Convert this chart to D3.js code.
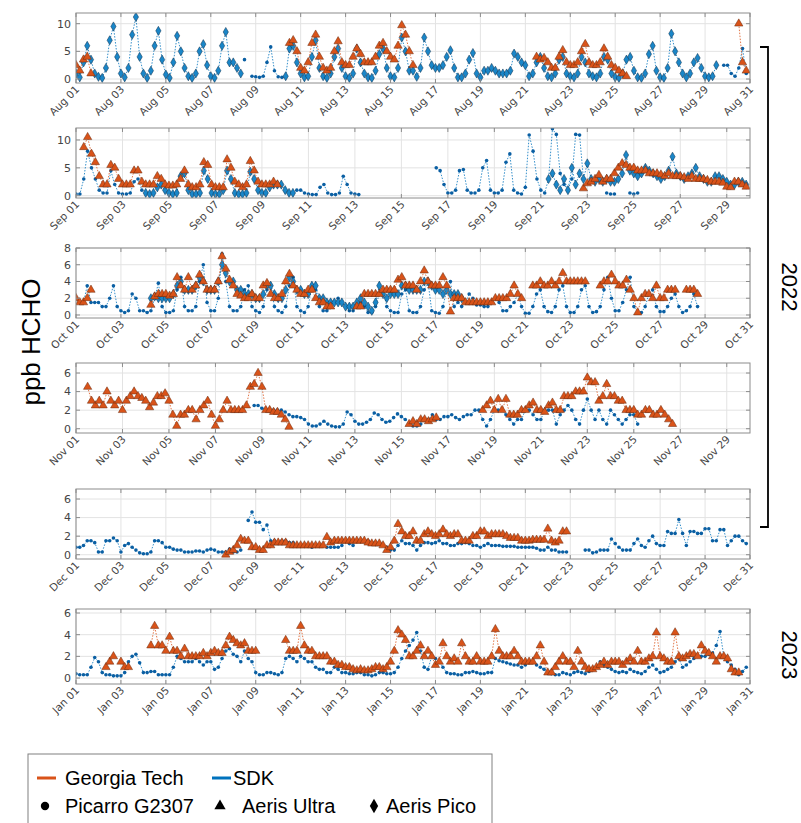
<!DOCTYPE html>
<html>
<head>
<meta charset="utf-8">
<script src="https://cdn.jsdelivr.net/npm/d3@7"></script>
<style>
  body { margin: 0; background: #fff; }
  svg { display: block; }
</style>
</head>
<body>
<svg id="chart" width="801" height="823"></svg>
<script>
// samples every 4 hours (one row = one day)
var sampleHours = [0, 4, 8, 12, 16, 20];

var panelStarts = [new Date(2022, 7, 1), new Date(2022, 8, 1), new Date(2022, 9, 1),
                   new Date(2022, 10, 1), new Date(2022, 11, 1), new Date(2023, 0, 1)];
var panelEnds = [new Date(2022, 7, 31), new Date(2022, 8, 30), new Date(2022, 9, 31),
                 new Date(2022, 10, 30), new Date(2022, 11, 31), new Date(2023, 0, 31)];
var panelYTicks = [[0, 5, 10], [0, 5, 10], [0, 2, 4, 6, 8], [0, 2, 4, 6], [0, 2, 4, 6], [0, 2, 4, 6]];
var panelYDomains = [[-0.72, 11.93], [-0.41, 12.15], [-0.36, 8], [-0.46, 7.08], [-0.46, 7.08], [-0.55, 6.37]];

var legendGroups = ["Georgia Tech", "SDK"];
var legendInstruments = ["Picarro G2307", "Aeris Ultra", "Aeris Pico"];

// ---------- August 2022 ----------
var augGT = [
 2.5,1.5,3.5,4,1,null,
 null,null,null,null,null,null,
 null,null,null,null,null,null,
 null,null,null,null,null,null,
 null,null,null,null,null,null,
 null,null,null,null,null,null,
 null,null,null,null,null,null,
 null,null,null,null,null,null,
 null,null,null,null,null,null,
 null,null,null,6.5,7,5,
 2,1.5,3,6.5,8,4,
 2,1.5,2,5,6.8,3,
 2.5,2.5,4,5.5,4.5,3,
 3,3,4,6,6.5,5,
 4,3.5,6,9.7,8,5,
 2.5,null,null,null,null,null,
 null,null,null,null,null,null,
 null,null,null,null,null,null,
 null,null,null,null,null,null,
 null,null,null,null,null,null,
 null,null,null,4,3.5,3.8,
 3,2,2,4,5.2,3,
 2.5,2.5,3,5,6.3,3,
 2.5,2.5,3,5.5,4,2.5,
 2,1.5,1,0.5,null,null,
 null,null,null,null,null,null,
 null,null,null,null,null,null,
 null,null,null,null,null,null,
 null,null,null,null,null,null,
 null,null,null,10,3,1.5
];
var augPico = [
 1,0.3,3,6,3.5,1,
 0.4,0.2,2,7,9.5,4,
 1,0.3,2,8,11.2,4,
 1,0.2,1.5,6,8.7,3.5,
 0.8,0.2,3,7.8,5,2,
 0.5,0.2,1,5,6.3,2.5,
 0.5,0.2,1.5,6,8.5,3,
 3,2,1,null,null,null,
 null,null,null,null,null,null,
 null,null,0.5,5.5,6,3,
 1,0.3,0.5,4,7,2,
 0.5,0.2,1,4,5.5,2,
 0.5,0.2,1,5.5,3,1,
 0.3,0.2,1.5,4.5,5.5,2,
 0.5,0.3,2,7.5,5,1.5,
 1.5,0.4,2,7.5,5,2.5,
 2,2,2.5,4,5.2,2,
 0.3,0.3,1,3.5,4.7,1,
 0.3,1.5,1.5,2,1.5,1,
 1,1,1.5,4.6,4,3,
 2.5,0.5,1,3,4,2,
 0.5,0.3,1,3.5,4,1,
 0.5,0.3,1,4,3,1,
 0.5,0.3,1,4,3.5,1,
 0.3,0.2,1,3.5,4,1.5,
 0.3,0.2,1,4.5,6,1.5,
 0.3,0.2,2,8.2,5,3,
 1,0.3,1,3,3.8,2,
 0.5,0.3,0.5,2.5,null,null,
 null,null,null,null,null,null
];
var augPicarro = [
 null,null,null,null,null,null,
 null,null,null,null,null,null,
 null,null,null,null,null,null,
 null,null,null,null,null,null,
 null,null,null,null,null,null,
 null,null,null,null,null,null,
 null,null,null,null,null,null,
 null,null,null,3.5,null,0.5,
 0.4,0.3,0.5,3,5.8,1.5,
 0.4,0.3,0.5,null,null,null,
 null,null,null,null,null,null,
 null,null,null,null,null,null,
 null,null,null,null,null,null,
 null,null,null,null,null,null,
 null,null,null,null,null,null,
 null,null,null,null,null,null,
 null,null,null,null,null,null,
 null,null,null,null,null,null,
 null,null,null,null,null,null,
 null,null,null,null,null,null,
 null,null,null,null,null,null,
 null,null,null,null,null,null,
 null,null,null,null,null,null,
 null,null,null,null,null,null,
 null,null,null,null,null,null,
 null,null,null,null,null,null,
 null,null,null,null,null,null,
 null,null,null,null,null,null,
 null,null,null,null,null,2.5,
 2.5,1,0.5,2,5.5,1
];

// ---------- September 2022 ----------
var sepGT = [
 null,null,8.7,10.5,7.5,6,
 3.5,2,2,5.5,5,3,
 2,2,2,4.5,4.5,2.5,
 2,2,2,3.5,3,2,
 1.8,1.8,2,3,4.5,2,
 1.5,1.5,2,6,5.5,2,
 1.5,1.5,1.5,6.5,5,2.5,
 2,1.5,2,6.2,4.5,2.5,
 2,2,2,2.5,2,null,
 null,null,null,null,null,null,
 null,null,null,null,null,null,
 null,null,null,null,null,null,
 null,null,null,null,null,null,
 null,null,null,null,null,null,
 null,null,null,null,null,null,
 null,null,null,null,null,null,
 null,null,null,null,null,null,
 null,null,null,null,null,null,
 null,null,null,null,null,null,
 null,null,null,null,null,null,
 null,null,null,null,null,null,
 null,null,null,null,null,1.3,
 2.2,2.5,3,3.7,2.5,3,
 3,4,5,5.8,5.5,5,
 5,4.5,4.5,4.5,4,4,
 4,3.8,3.5,4,3.5,3.5,
 3.5,3.3,3,3.5,3,3,
 3,2.8,2.5,2.5,2.5,2.3,
 1.6,1.5,2.5,2.5,2,1.6
];
var sepPico = [
 null,null,null,null,null,null,
 null,null,null,null,null,null,
 null,null,null,null,null,null,
 0.5,0.3,0.5,1.5,2,1,
 0.5,0.3,0.5,3.5,4,1,
 0.3,0.3,0.5,4.5,3,0.5,
 0.3,0.3,1,4.5,3,0.5,
 0.3,0.3,0.5,4.3,3,1,
 0.5,0.5,1.5,2,2,2,
 1,0.5,0.5,null,null,null,
 null,null,null,null,null,null,
 null,null,null,null,null,null,
 null,null,null,null,null,null,
 null,null,null,null,null,null,
 null,null,null,null,null,null,
 null,null,null,null,null,null,
 null,null,null,null,null,null,
 null,null,null,null,null,null,
 null,null,null,null,null,null,
 null,null,null,null,null,null,
 null,null,3,4,2,1,
 3,1,5,2,4,3,
 5.8,3,2.5,3,2.5,3,
 2.5,2.5,3,4,7.3,4.5,
 4,3.5,4,5,4.5,4,
 3.5,3,3.5,4.5,7,4,
 3.5,3,3.5,4,5,3.5,
 3,2.5,2.5,3.5,3.5,3,
 2.5,2,2,2.5,2.5,2
];
var sepPicarro = [
 0.3,0.3,3,8,5,3,
 1,0.5,0.5,4.5,2,0.5,
 0.3,0.3,0.5,2.5,3,1,
 null,null,null,null,null,null,
 null,null,null,null,null,null,
 null,null,null,null,null,null,
 null,null,null,null,null,null,
 null,null,null,null,null,null,
 null,null,null,null,null,null,
 null,null,null,1,1,0.5,
 0.3,0.2,0.2,1.5,2,0.5,
 0.2,0.2,0.5,3.5,2,0.5,
 0.3,0.2,null,null,null,null,
 null,null,null,null,null,null,
 null,null,null,null,null,null,
 null,null,null,5,4.5,2,
 0.5,0.5,1,4.5,4.7,1,
 0.5,0.5,1,5,6.3,1,
 0.5,0.5,1,6,7.5,1,
 0.5,0.3,1.5,10.9,8,3,
 1,0.5,3,12,11,4,
 2,1,3,11,10.9,3,
 null,null,null,null,null,0.5,
 0.3,0.3,null,null,null,0.5,
 0.3,0.5,null,null,null,null,
 null,null,null,null,null,null,
 null,null,null,null,null,null,
 null,null,null,null,null,null,
 null,null,null,null,null,null
];

// ---------- October 2022 ----------
var octGT = [
 2,1.5,1.5,2,3,null,
 null,null,null,null,null,null,
 null,null,null,null,null,null,
 null,null,1.2,2.2,2.5,2.5,
 2.5,2.3,2.5,4.5,3.5,3,
 4.5,3,3.5,4.8,4,3,
 3,3,4,7,5.5,4.2,
 3.5,2.5,2.3,2,2,2.5,
 2,2,3.5,3.8,2.5,2,
 2,2.5,4,4.9,3.5,3,
 2.5,2.5,3,3,2,1.5,
 1.5,1,1,null,null,null,
 null,null,null,1,1,2.5,
 2.5,2.5,2.5,2.5,3,3,
 3,3,4.2,4.5,3.5,3.5,
 3.5,3,4,5.3,4,3.5,
 3.5,3.5,4.5,3.5,0.4,2,
 2,2,1.5,1.5,1.5,1.5,
 1.5,1.5,1.5,1.5,2,2,
 2,2,2.5,3.5,2.5,2,
 null,null,3.5,3.5,4,3.5,
 3.5,4,3.5,4,5,4,
 4,4,4,4,4,null,
 null,null,3.5,4,4,4.8,
 4,3.5,3.5,4.2,3,2,
 0.3,2,2.5,2.5,2,3.5,
 2,2,3,3,3,null,
 null,3,3,3,2.5,null,
 null,null,null,null,null,null,
 null,null,null,null,null,null
];
var octPico = [
 null,null,null,null,null,null,
 null,null,null,null,null,null,
 null,null,null,null,null,null,
 null,null,2,2.2,2,2,
 2,2,2.5,3.5,4,3,
 3,3,3.5,4.5,4,3,
 3,3,4,6,5,4,
 4,3,3,2.5,2.5,2.5,
 2,2,2.5,3.5,3.5,2.5,
 2,2,3,4.5,4,3,
 3,2.5,2.5,3.5,3.5,2,
 2,1.5,1.5,1.5,1.5,1.5,
 1,1,1,1.5,2,1.5,
 1,0.5,1.5,3.5,2.5,2,
 2.5,2.5,2.5,3.5,3.5,3,
 3,3,3,4,4,3.5,
 3,3,2.5,3,2.5,2.5,
 2.5,2,null,null,null,null,
 null,null,null,null,null,null,
 null,null,null,null,null,null,
 null,null,null,null,null,null,
 null,null,null,null,null,null,
 null,null,null,null,null,null,
 null,null,null,null,null,null,
 null,null,null,null,null,null,
 null,null,null,null,null,null,
 null,null,null,null,null,null,
 null,null,null,null,null,null,
 null,null,null,null,null,null,
 null,null,null,null,null,null
];
var octPicarro = [
 2,1.5,1.5,3.5,1.5,1.5,
 1.5,1,1,2,3.5,1,
 0.5,0.3,0.5,2.5,2,0.5,
 0.5,0.3,0.5,2,3.8,1,
 0.3,0.3,0.5,3,4.5,1,
 0.5,0.5,1,4,6,1.5,
 0.5,0.5,2,7.3,4,1,
 0.5,0.5,1,3,3.5,1,
 0.5,0.3,1,3,3.5,1,
 0.5,0.3,1,3.5,4.5,1,
 0.5,0.3,1,3.5,3,1,
 0.5,0.5,1,1.5,2,1.5,
 1,0.5,0.5,1.5,1.5,1,
 0.3,0.3,1,2.5,3,1,
 0.5,0.3,0.3,2.5,3,0.5,
 0.3,0.3,1,3,4,0.5,
 0.3,0.2,1,3,4,1,
 1.5,1,1.5,2.5,2,1.2,
 1.2,1,1,1.5,2,1.5,
 0.5,0.5,1,1.5,2.5,1,
 0.2,0.2,1,2.5,3,1,
 0.4,0.3,1,3,3.5,1,
 0.3,0.3,1,3,3.5,1,
 0.3,0.4,1,3,4.5,2,
 0.5,0.5,1.5,3,4.5,1,
 0.3,0.3,1,2.5,3,1,
 0.4,0.4,1,2,2.5,1,
 0.3,0.5,1,2.5,1,null,
 null,null,null,null,null,null,
 null,null,null,null,null,null
];

// ---------- November 2022 ----------
var novGT = [
 null,null,null,4.5,3,2.5,
 3,2.5,4,3,2.5,3,
 2,3,3.5,4,3.5,3.3,
 3,2.3,2.8,3.5,3.5,3.8,
 3,1.5,0.3,1.5,1.5,2,
 2,1,2,2.5,3,1.5,
 0.3,1,2,3,2,2,
 2,2,2.5,4.5,4.8,6,
 4.5,2,2,1.8,1.8,1.5,
 1,0.2,null,null,null,null,
 null,null,null,null,null,null,
 null,null,null,null,null,null,
 null,null,null,null,null,null,
 null,null,null,null,null,null,
 null,null,0.5,0.8,0.5,1,
 1,0.8,1,1.2,null,null,
 null,null,null,null,null,null,
 null,null,null,2,2.5,3,
 2,3.2,2,3.2,1.5,1.5,
 1.5,2,2,2.5,2.8,2,
 2,1.8,2.5,2.8,2,2,
 3.5,3.5,3.5,4,4,4,
 5.5,5,5,3,3.5,4.8,
 3.5,3.5,3,3,2,2,
 2,1.5,1.5,2,2,1.5,
 1.5,2,1.5,1,0.5,null,
 null,null,null,null,null,null,
 null,null,null,null,null,null,
 null,null,null,null,null,null
];
var novPicarro = [
 null,null,null,null,null,null,
 null,null,null,null,null,null,
 null,null,null,null,null,null,
 null,null,null,null,null,null,
 null,null,null,null,null,null,
 null,null,null,null,null,null,
 null,null,null,null,null,null,
 null,null,null,null,2.5,2.5,
 2.2,2,2,2,2,2,
 1.8,1.5,1.3,1.3,1.2,1,
 0.5,0.3,0.3,0.5,0.8,0.5,
 0.3,0.2,0.2,0.5,1.8,1.5,
 0.8,0.5,0.5,0.7,1,1.7,
 1.5,1,0.7,0.8,1.2,1.6,
 1.3,1,0.5,0.3,0.3,0.5,
 1,1,1.5,1,1,1.3,
 1.3,1.5,1.2,1,1.3,1.5,
 1.5,2,2,1,0.3,1,
 2,2,2,1.5,1,0.5,
 1,1,2,2,1.5,1,
 1,2,2,2,0.5,1.5,
 2,2.5,2,1,0.5,2,
 3.2,2,1,2,1,0.5,
 2,1.5,1,0.5,1,1.5,
 1.5,0.5,null,null,null,null,
 null,null,null,null,null,null,
 null,null,null,null,null,null,
 null,null,null,null,null,null,
 null,null,null,null,null,null
];

// ---------- December 2022 ----------
var decGT = [
 null,null,null,null,null,null,
 null,null,null,null,null,null,
 null,null,null,null,null,null,
 null,null,null,null,null,null,
 null,null,null,null,null,null,
 null,null,null,null,null,null,
 null,null,null,null,0,0.3,
 0.5,1,1.7,1.5,1.5,0.8,
 0.8,0.5,0.5,1,1,1.3,
 1.3,1.3,1.3,1,1,1,
 1,1,1,1,1,1,
 1,1.9,1.3,1.5,1.5,1.5,
 1.5,1.5,1.5,1.5,1.5,1.5,
 1.3,1.2,1.2,1.2,1,0.5,
 0.8,1.5,3.3,2.5,2,2,
 2.5,1.5,1.5,2.2,2.5,2.2,
 2,2.2,2.7,2.2,2,2.2,
 2.2,1.5,1.5,1.5,2,2,
 2.5,2.5,2,2.2,2.2,2.2,
 2.2,2,1.8,1.8,1.8,1.5,
 1.5,1.5,1.6,1.6,1.6,1.6,
 2.8,1.5,1.3,1.5,2.5,2.5,
 null,null,null,null,null,null,
 null,null,null,null,null,null,
 null,null,null,null,null,null,
 null,null,null,null,null,null,
 null,null,null,null,null,null,
 null,null,null,null,null,null,
 null,null,null,null,null,null,
 null,null,null,null,null,null
];
var decPicarro = [
 0.8,0.8,1,1.5,1.5,1.3,
 0.3,0.3,1.5,1.5,1.8,1.5,
 0.3,1,1.2,0.8,0.5,0.2,
 0.1,0.1,0.3,1.5,1.5,1.3,
 0.8,0.8,0.6,0.5,0.5,0.3,
 0.3,0.3,0.4,0.4,0.3,0.5,
 0.6,0.5,0.3,0.3,0.3,0.6,
 0.3,0.3,0.5,null,3.7,4.6,
 3.5,3.5,2.7,3.2,1.5,1.5,
 1.3,1.5,1.5,1.3,1.3,1,
 1,1,1,0.8,1,1,
 1,0.8,0.8,0.8,0.8,1,
 1.5,1.2,1,1.5,1.5,1.5,
 1.5,1.3,1.3,1.2,1,0.8,
 0.5,0.5,1,1.5,1.2,1.2,
 1,0.5,1,1.3,1.3,1.2,
 1.3,1.5,1.2,1.2,1,1,
 1.2,1.2,1.3,1.2,1,1,
 0.8,1,1.2,1,1,1,
 0.9,0.9,0.9,0.9,0.8,0.8,
 0.8,0.8,0.8,0.7,0.5,0.5,
 0.8,0.5,0.5,0.3,0.3,0.3,
 null,null,null,null,0.5,0.5,
 0.2,0.3,0.5,0.5,0.5,1.7,
 1.2,0.8,0.5,0.5,0.5,1.2,
 1.7,1,0.8,1.5,2,1.2,
 1,1,2.5,2.3,2.3,3.8,
 2.3,1,2.5,2.5,2.3,2.3,
 2.8,2.8,1.5,1.5,2.7,2.7,
 1,1.5,2,2,1.5,1.2
];

// ---------- January 2023 ----------
var janGT = [
 null,null,null,null,null,null,
 null,null,1,1.5,2,null,
 1.5,1,1,null,null,null,
 null,null,3,4.8,3,3,
 2.5,3.8,2.5,2.5,2,2.7,
 2,2,2,2,2.3,2,
 2.3,2.5,2.3,2.3,3,3.8,
 3.5,3.2,3,3.2,2.5,2.5,
 2.5,null,null,null,null,null,
 null,null,3.5,2.5,2.5,2.5,
 4.8,3,2.5,2.5,2,2,
 2,2,1.5,1.5,1.2,1.2,
 1,1,0.8,0.7,0.8,0.7,
 0.7,0.8,1,1,0.8,1,
 1.5,2.5,4.4,4,3.5,2,
 2,2.5,3,2,2.5,2,
 1.2,1.5,3.2,2,1.5,1.8,
 1.5,3.2,2,1.5,1.5,2,
 1.5,1.5,1.5,2,4.5,2.5,
 2,2,2,2.5,2,1.5,
 1.5,1.5,1.5,2,3,1.5,
 0.5,0.5,1,1.5,2,1.5,
 1.5,1,2.5,1.5,1,0.8,
 0.8,1,1.2,1.5,1.2,1.5,
 1.5,1.5,1.2,1.5,1.8,1.5,
 2.5,1.5,1.5,1.8,2,4.2,
 2,1.8,1.5,1.5,4.2,2,
 1.8,2,2.2,2.2,2,3,
 2.5,2.3,2,1.5,2,2,
 1.8,0.8,0.5,0.5,null,null
];
var janPicarro = [
 0.4,0.3,0.3,0.3,1,1.9,
 1.5,0.5,0.3,0.3,0.2,0.2,
 0.2,0.5,1.5,2,2.2,1.4,
 0.5,0.5,0.6,0.6,0.3,0.3,
 0.3,0.3,1,2,1.8,1.5,
 1.5,1.5,1.8,1.5,1.2,1.5,
 1.5,0.8,1,1.8,2.5,2.7,
 2.2,2,1.5,2.5,1.8,1.5,
 0.5,0.3,0.3,0.5,0.5,0.4,
 0.3,0.5,1.8,2,1.8,1.5,
 2,1.8,1.5,1.5,1,0.8,
 0.8,0.5,0.5,1,0.8,0.5,
 0.5,0.4,0.4,0.5,0.5,0.3,
 0.3,0.2,0.3,0.5,0.5,0.4,
 0.4,0.5,1,1.8,2.5,3,
 3.5,4.2,2.5,1,0.8,2,
 1.8,1.5,1,0.5,0.4,0.4,
 0.3,0.3,0.5,0.5,0.6,0.5,
 0.4,0.4,0.5,0.5,1.8,1.6,
 1.5,1.4,1.3,1.2,1.2,1,
 1.2,1.5,1.5,1.2,1,0.8,
 0.5,0.4,0.3,0.3,0.5,0.4,
 0.3,0.5,0.6,0.5,0.4,0.6,
 0.8,1,1.5,1.2,1,0.8,
 0.6,0.5,0.6,0.5,0.8,0.6,
 0.5,0.4,0.6,1,1.2,0.8,
 0.5,0.6,0.8,1,1.5,1.8,
 1,1.2,1.5,1.8,2,2,
 2,2.2,2.3,3,4.3,2,
 1.5,1.2,0.8,0.3,0.6,1
];

// series per panel: kind decides colour and marker
var panelSeries = [
  [{ kind: "pic", values: augPicarro }, { kind: "pico", values: augPico }, { kind: "gt", values: augGT }],
  [{ kind: "pic", values: sepPicarro }, { kind: "pico", values: sepPico }, { kind: "gt", values: sepGT }],
  [{ kind: "pic", values: octPicarro }, { kind: "pico", values: octPico }, { kind: "gt", values: octGT }],
  [{ kind: "pic", values: novPicarro }, { kind: "gt", values: novGT }],
  [{ kind: "pic", values: decPicarro }, { kind: "gt", values: decGT }],
  [{ kind: "pic", values: janPicarro }, { kind: "gt", values: janGT }]
];

var orange = "#D95319", blue = "#0072BD";

// layout
var plotLeft = 76, plotRight = 750;
var panelTops = [13, 128, 248, 363, 489, 609];
var panelBottoms = [83, 198, 318, 433, 559, 684];

var svg = d3.select("#chart");

function toPoints(values, start) {
    return values.map(function (v, i) {
        var t = d3.timeHour.offset(d3.timeDay.offset(start, Math.floor(i / 6)), sampleHours[i % 6]);
        return { t: t, v: v };
    });
}

panelStarts.forEach(function (start, p) {
    var top = panelTops[p], bottom = panelBottoms[p];
    var x = d3.scaleTime().domain([start, panelEnds[p]]).range([plotLeft, plotRight]);
    var y = d3.scaleLinear().domain(panelYDomains[p]).range([bottom, top]);
    var xTicks = d3.timeDay.every(2).range(start, d3.timeDay.offset(panelEnds[p], 1));

    var g = svg.append("g");

    // grid
    g.selectAll(".gx").data(xTicks).join("line")
        .attr("x1", function (d) { return x(d) }).attr("x2", function (d) { return x(d) })
        .attr("y1", top).attr("y2", bottom)
        .attr("stroke", "#e3e3e3").attr("stroke-width", 1);
    g.selectAll(".gy").data(panelYTicks[p]).join("line")
        .attr("x1", plotLeft).attr("x2", plotRight)
        .attr("y1", function (d) { return y(d) }).attr("y2", function (d) { return y(d) })
        .attr("stroke", "#e3e3e3").attr("stroke-width", 1);

    var clipId = "clip" + p;
    svg.append("clipPath").attr("id", clipId).append("rect")
        .attr("x", plotLeft).attr("y", top).attr("width", plotRight - plotLeft).attr("height", bottom - top);
    var plot = g.append("g").attr("clip-path", "url(#" + clipId + ")");

    panelSeries[p].forEach(function (s) {
        var pts = toPoints(s.values, start);
        var col = s.kind == "gt" ? orange : blue;
        var line = d3.line()
            .defined(function (d) { return d.v != null })
            .x(function (d) { return x(d.t) })
            .y(function (d) { return y(d.v) });
        plot.append("path")
            .datum(pts)
            .attr("fill", "none")
            .attr("stroke", col)
            .attr("stroke-width", 0.8)
            .attr("stroke-dasharray", "1.5,1.5")
            .attr("d", line);

        var shown = pts.filter(function (d) { return d.v != null });
        if (s.kind == "pic") {
            plot.selectAll(null).data(shown).join("circle")
                .attr("cx", function (d) { return x(d.t) })
                .attr("cy", function (d) { return y(d.v) })
                .attr("r", 1.8)
                .attr("fill", "#0a5fa3");
        } else {
            var sym = d3.symbol().type(s.kind == "gt" ? d3.symbolTriangle : d3.symbolDiamond)
                .size(s.kind == "gt" ? 30 : 24);
            plot.selectAll(null).data(shown).join("path")
                .attr("transform", function (d) { return "translate(" + x(d.t) + "," + y(d.v) + ")" })
                .attr("d", sym)
                .attr("fill", s.kind == "gt" ? orange : "#1a86c8")
                .attr("stroke", s.kind == "gt" ? "#6a2a0e" : "#0b2f4d")
                .attr("stroke-width", 0.5);
        }
    });

    // box and inner ticks
    g.append("rect")
        .attr("x", plotLeft).attr("y", top)
        .attr("width", plotRight - plotLeft).attr("height", bottom - top)
        .attr("fill", "none").attr("stroke", "#8c8c8c").attr("stroke-width", 1);
    xTicks.forEach(function (d) {
        g.append("line").attr("x1", x(d)).attr("x2", x(d)).attr("y1", top).attr("y2", top + 4)
            .attr("stroke", "#8c8c8c");
        g.append("line").attr("x1", x(d)).attr("x2", x(d)).attr("y1", bottom).attr("y2", bottom - 4)
            .attr("stroke", "#8c8c8c");
    });
    panelYTicks[p].forEach(function (d) {
        g.append("line").attr("x1", plotLeft).attr("x2", plotLeft + 4).attr("y1", y(d)).attr("y2", y(d))
            .attr("stroke", "#8c8c8c");
        g.append("line").attr("x1", plotRight).attr("x2", plotRight - 4).attr("y1", y(d)).attr("y2", y(d))
            .attr("stroke", "#8c8c8c");
    });

    // tick labels
    g.selectAll(".yl").data(panelYTicks[p]).join("text")
        .attr("x", plotLeft - 5)
        .attr("y", function (d) { return y(d) })
        .attr("dy", "0.35em")
        .attr("text-anchor", "end")
        .style("font-family", "DejaVu Sans")
        .style("font-size", "11px")
        .attr("fill", "#444")
        .text(function (d) { return d });
    g.selectAll(".xl").data(xTicks).join("text")
        .attr("transform", function (d) { return "translate(" + (x(d) + 4) + "," + (bottom + 7) + ") rotate(-45)" })
        .attr("text-anchor", "end")
        .style("font-family", "DejaVu Sans")
        .style("font-size", "10.5px")
        .attr("fill", "#444")
        .text(d3.timeFormat("%b %d"));
});

// y label
svg.append("text")
    .attr("transform", "translate(40,342) rotate(-90)")
    .attr("text-anchor", "middle")
    .style("font-family", "Liberation Sans")
    .style("font-size", "26px")
    .text("ppb HCHO");

// year bracket and labels
svg.append("path")
    .attr("d", "M760,47H768V527H760")
    .attr("fill", "none").attr("stroke", "#000").attr("stroke-width", 1.8);
svg.append("text")
    .attr("transform", "translate(782,287) rotate(90)")
    .attr("text-anchor", "middle")
    .style("font-family", "Liberation Sans")
    .style("font-size", "22px")
    .text("2022");
svg.append("text")
    .attr("transform", "translate(782,655) rotate(90)")
    .attr("text-anchor", "middle")
    .style("font-family", "Liberation Sans")
    .style("font-size", "22px")
    .text("2023");

// legend
var lg = svg.append("g");
lg.append("rect").attr("x", 28).attr("y", 754).attr("width", 464).attr("height", 80)
    .attr("fill", "#fff").attr("stroke", "#808080").attr("stroke-width", 1);
var legendColors = [orange, blue];
var legendLineX = [37, 212];
legendGroups.forEach(function (name, i) {
    lg.append("line").attr("x1", legendLineX[i]).attr("x2", legendLineX[i] + 19)
        .attr("y1", 778).attr("y2", 778)
        .attr("stroke", legendColors[i]).attr("stroke-width", 3);
    lg.append("text").attr("x", i == 0 ? 65 : 233).attr("y", 785)
        .style("font-family", "Liberation Sans").style("font-size", "20px")
        .text(name);
});
var legendSymbols = [d3.symbolCircle, d3.symbolTriangle, d3.symbolDiamond];
var legendSymX = [45, 220, 374];
var legendTextX = [65, 242, 386];
legendInstruments.forEach(function (name, i) {
    lg.append("path")
        .attr("transform", "translate(" + legendSymX[i] + ",806)")
        .attr("d", d3.symbol().type(legendSymbols[i]).size(i == 2 ? 60 : 55))
        .attr("fill", "#000");
    lg.append("text").attr("x", legendTextX[i]).attr("y", 813)
        .style("font-family", "Liberation Sans").style("font-size", "20px")
        .text(name);
});
</script>
</body>
</html>
